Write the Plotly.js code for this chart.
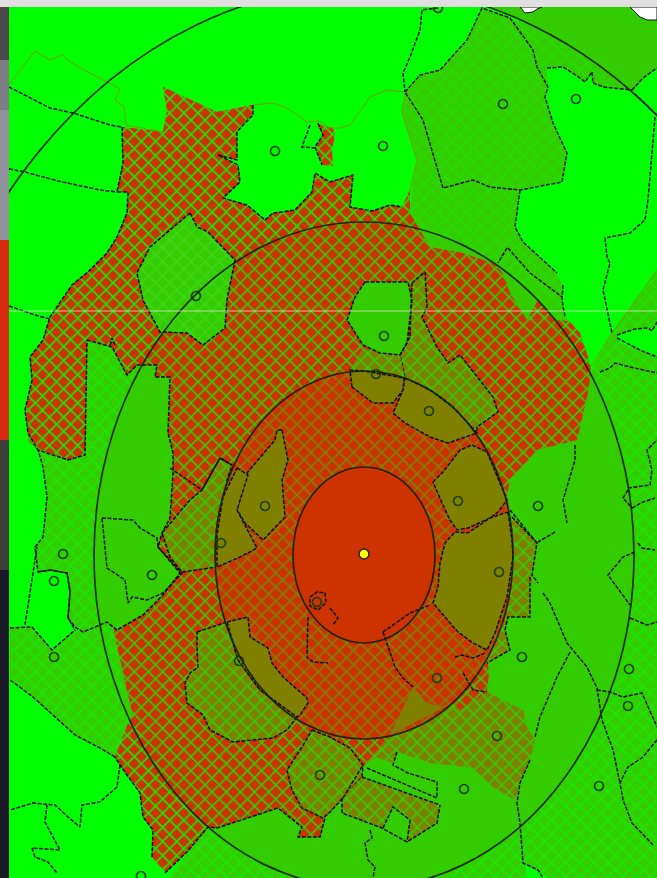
<!DOCTYPE html>
<html><head><meta charset="utf-8">
<script src="https://cdn.plot.ly/plotly-3.0.1.min.js"></script>
<style>html,body{margin:0;padding:0;background:#fff;overflow:hidden}#c{width:657px;height:878px;filter:blur(0.35px)}</style>
</head><body><div id="c"></div>
<script>
// ---------- colours ----------
const BRIGHT='#00ff00', SOLID='#33cc00', RED='#cc3300', OLIVE='#808000', DARK='#101010';
// ---------- ring boundaries (centre x,y, radii) ----------
const ringCenter=[364,555];
const ringRx=[71,149,270,461];
const ringRy=[88,184,333,569];
// ---------- ring interiors read as outlines ----------
const ring3Area=[[634,555],[630,613],[618,669],[598,721],[571,769],[538,810],[499,843],[456,868],[411,883],[364,888],[317,883],[272,868],[229,843],[190,810],[157,769],[130,721],[110,669],[98,613],[94,555],[98,497],[110,441],[130,389],[157,341],[190,300],[229,267],[272,242],[317,227],[364,222],[411,227],[456,242],[499,267],[538,300],[571,341],[598,389],[618,441],[630,497]];
const ring2Area=[[513,555],[511,587],[504,618],[493,647],[478,673],[460,696],[439,714],[415,728],[390,736],[364,739],[338,736],[313,728],[289,714],[268,696],[250,673],[235,647],[224,618],[217,587],[215,555],[217,523],[224,492],[235,463],[250,437],[268,414],[289,396],[313,382],[338,374],[364,371],[390,374],[415,382],[439,396],[460,414],[478,437],[493,463],[504,492],[511,523]];
const ring1Area=[[435,555],[434,570],[431,585],[425,599],[418,612],[410,622],[400,631],[388,638],[376,642],[364,643],[352,642],[340,638],[328,631],[318,622],[310,612],[303,599],[297,585],[294,570],[293,555],[294,540],[297,525],[303,511],[310,498],[318,488],[328,479],[340,472],[352,468],[364,467],[376,468],[388,472],[400,479],[410,488],[418,498],[425,511],[431,525],[434,540]];
// ---------- hatched green districts ----------
const leftStrip=[[87,340],[112,347],[127,375],[137,365],[157,365],[155,377],[170,377],[168,433],[173,453],[173,473],[170,518],[162,533],[158,547],[180,573],[163,595],[143,615],[117,630],[107,622],[83,632],[75,627],[68,618],[70,592],[67,573],[50,570],[38,572],[35,547],[43,537],[47,497],[43,467],[38,450],[68,460],[85,455]];
const bottomLeft=[[10,628],[32,627],[52,650],[75,630],[83,632],[107,622],[115,637],[127,713],[128,723],[115,757],[100,748],[75,735],[62,723],[50,712],[33,697],[17,685],[10,680]];
const topRight=[[482,8],[510,18],[533,50],[537,67],[548,87],[545,97],[553,123],[567,153],[562,180],[520,190],[515,227],[523,242],[557,273],[563,287],[563,315],[570,322],[550,340],[500,300],[410,240],[410,213],[412,187],[417,160],[402,113],[405,92],[420,75],[440,70],[467,40]];
const topRightEdge=[[510,18],[533,50],[537,67],[548,87],[547,68],[563,67],[580,78],[585,82],[592,72],[593,83],[603,87],[632,90],[570,40]];
const bottomRight=[[168,878],[208,827],[520,780],[591,370],[612,333],[657,270],[657,878]];
// ---------- plain darker corner ----------
const topCorner=[[490,7],[657,7],[657,68],[643,78],[633,92],[570,48],[510,15]];
// ---------- bright openings ----------
const brightRight=[[617,335],[635,329],[648,328],[652,331],[657,322],[657,357],[640,350],[620,343]];
const brightBottom=[[525,865],[540,872],[548,878],[527,878]];
// ---------- red hatched area ----------
const redMain=[[163,87],[217,112],[253,105],[253,115],[245,123],[237,132],[237,160],[218,155],[238,165],[240,182],[223,198],[247,205],[265,220],[273,213],[295,210],[312,192],[315,173],[330,182],[353,175],[350,207],[372,211],[390,205],[402,207],[410,190],[410,213],[420,230],[430,247],[463,253],[493,263],[503,273],[510,293],[527,320],[550,318],[570,322],[580,333],[588,357],[591,370],[588,393],[578,433],[577,440],[537,450],[510,480],[507,497],[510,510],[470,600],[487,657],[489,673],[487,692],[473,703],[460,710],[452,703],[400,730],[363,767],[343,798],[325,818],[320,837],[298,837],[302,827],[278,808],[217,828],[208,827],[187,852],[165,873],[152,857],[153,830],[143,817],[140,793],[122,768],[115,757],[128,723],[133,717],[115,637],[85,455],[68,460],[50,453],[38,450],[28,440],[28,433],[25,410],[32,380],[30,357],[43,340],[50,317],[60,303],[72,285],[88,272],[107,253],[117,237],[127,213],[128,192],[117,192],[123,163],[122,127],[163,132],[167,110]];
const redTop=[[163,87],[217,112],[253,105],[253,115],[245,123],[237,132],[237,160],[218,155],[238,165],[240,182],[223,198],[247,205],[265,220],[273,213],[295,210],[312,192],[315,173],[330,182],[353,175],[350,207],[372,211],[390,205],[402,207],[410,190],[410,213],[411,227],[364,222],[317,227],[272,242],[229,267],[190,300],[157,341],[130,389],[110,441],[98,470],[85,455],[68,460],[50,453],[38,450],[28,440],[28,433],[25,410],[32,380],[30,357],[43,340],[50,317],[60,303],[72,285],[88,272],[107,253],[117,237],[127,213],[128,192],[117,192],[123,163],[122,127],[163,132],[167,110]];
const redWedge=[[527,320],[550,318],[570,322],[580,333],[588,357],[591,370],[571,341],[538,300]];
const redLow=[[133,717],[157,769],[190,810],[208,827],[187,852],[165,873],[152,857],[153,830],[143,817],[140,793],[122,768],[115,757],[128,723]];
const redTiny=[[317,124],[333,128],[335,135],[332,150],[333,166],[322,165],[316,147],[323,135]];
// ---------- solid green districts ----------
const stripInner=[[137,365],[157,365],[155,377],[170,377],[168,433],[173,453],[173,473],[170,518],[162,533],[158,547],[180,573],[163,595],[143,615],[117,630],[107,622],[103,625],[98,613],[94,555],[98,497],[110,441],[130,389]];
const zoneWest=[[190,213],[197,227],[208,232],[235,260],[227,300],[225,328],[203,345],[187,333],[160,332],[143,300],[137,273],[150,247]];
const zoneNorth=[[365,282],[408,282],[412,300],[410,320],[407,343],[400,355],[380,353],[363,345],[347,320],[355,297]];
const stripeBand=[[367,762],[378,758],[393,763],[397,752],[430,763],[473,768],[493,787],[515,800],[500,830],[437,823],[440,805],[362,777]];
// ---------- olive hatched districts ----------
const oliveSW=[[197,632],[227,622],[238,660],[260,690],[297,717],[287,730],[273,738],[233,742],[210,730],[203,715],[187,703],[185,683],[190,673],[198,667],[197,647]];
const oliveW=[[220,458],[232,465],[227,480],[217,567],[182,572],[170,557],[162,533],[173,520],[190,500],[202,490]];
const oliveS=[[312,730],[330,737],[350,748],[363,765],[362,777],[343,798],[330,812],[323,818],[302,808],[292,790],[287,770],[302,747]];
const oliveSE=[[390,735],[452,703],[460,710],[473,703],[487,692],[489,693],[523,710],[527,727],[535,740],[530,760],[520,783],[515,800],[493,787],[473,768],[430,763],[397,752],[393,763],[378,758],[367,762]];
const oliveE=[[512,517],[537,543],[532,573],[530,617],[508,617],[505,630],[510,650],[487,663],[480,660],[500,620]];
const oliveBand=[[362,777],[440,805],[437,823],[407,842],[410,820],[393,807],[382,828],[342,813],[342,798]];
const oliveN=[[412,283],[425,272],[427,307],[422,317],[437,347],[448,363],[460,355],[493,397],[498,412],[477,427],[477,433],[453,407],[430,390],[405,378],[400,355],[407,343],[410,337]];
const oliveN2=[[363,348],[380,353],[400,355],[405,378],[364,376],[350,370]];
// ---------- solid olive districts (inside second ring) ----------
const solidA=[[282,430],[288,460],[282,480],[285,517],[263,540],[245,523],[237,510],[247,473],[275,440],[277,430]];
const solidB=[[237,468],[248,475],[237,510],[245,525],[257,548],[240,557],[217,567],[217,535],[223,497]];
const solidC=[[433,482],[443,472],[460,450],[472,445],[487,452],[497,477],[507,500],[498,512],[490,518],[468,528],[457,530],[450,520],[442,503]];
const solidD=[[508,512],[512,540],[513,557],[507,597],[495,633],[487,650],[473,643],[458,632],[445,617],[433,603],[438,587],[440,563],[445,543],[455,532],[468,533],[490,518]];
const solidE=[[390,735],[413,687],[427,703],[440,707],[452,703]];
const solidF=[[227,622],[248,617],[250,637],[268,648],[272,663],[283,677],[307,698],[308,703],[300,715],[297,717],[260,690],[238,660]];
const solidG=[[352,387],[350,370],[364,371],[404,378],[403,390],[393,403],[373,403]];
const solidH=[[405,378],[430,390],[453,407],[477,433],[448,443],[430,437],[405,423],[393,413],[403,390]];
// ---------- dashed boundary lines ----------
const dashed=[
 [[9,87],[50,108],[73,113],[110,125],[122,127]],
 [[9,169],[25,172],[58,181],[100,190],[117,192]],
 [[9,306],[35,315],[50,319]],
 [[122,127],[123,163],[117,192],[128,192],[127,213],[117,237],[107,253],[88,272],[72,285],[60,303],[50,317],[43,340],[30,357],[32,380],[25,410],[28,433],[38,450]],
 [[253,105],[253,115],[245,123],[237,132],[237,160],[218,155],[238,165],[240,182],[223,198],[247,205],[265,220],[273,213],[295,210],[312,192],[315,173],[330,182],[353,175],[350,207],[372,211],[390,205],[402,207]],
 [[310,125],[302,147],[317,148]],[[318,123],[323,135],[315,147],[322,165]],
 [[438,8],[422,10],[420,30],[410,57],[403,73],[405,92]],
 [[405,92],[420,75],[440,70],[467,40],[482,8],[510,18],[533,50],[537,67],[548,87],[545,97],[553,123],[567,153],[562,182],[520,190],[490,187],[473,180],[443,188],[423,120],[405,92]],
 [[520,190],[515,227],[523,242],[557,273]],[[508,248],[530,273],[562,297]],[[507,248],[498,263]],[[563,285],[562,300],[565,317]],
 [[657,115],[633,92]],[[655,117],[652,153],[648,200],[645,220],[630,233],[605,238],[607,257],[610,263],[603,290],[612,333]],
 [[547,68],[563,67],[580,78],[585,82],[592,72],[593,83],[603,87],[632,90]],[[632,90],[643,78],[657,68]],
 [[617,335],[635,329],[648,328],[652,331],[657,322]],[[617,338],[640,350],[657,357]],[[600,372],[610,368],[615,363],[630,367],[657,373]],
 [[628,488],[650,485],[652,470],[647,450],[657,440]],[[632,508],[643,502],[655,498]],[[628,490],[623,498],[632,508]],
 [[635,552],[623,557],[608,575],[630,605]],[[638,543],[642,548],[655,550]],[[630,618],[647,625],[657,622]],
 [[597,690],[610,692],[623,697],[642,693],[657,727]],[[657,740],[643,757],[628,767],[620,783],[623,800],[632,823],[653,845]],
 [[575,445],[575,460],[563,500],[567,523]],[[555,532],[538,542]],
 [[543,593],[550,603],[567,643],[587,667],[597,688],[602,720],[613,750],[620,783]],
 [[570,652],[557,677],[540,717],[535,737]],
 [[530,760],[520,783],[517,803],[520,823],[523,863],[538,870],[543,878]],
 [[512,517],[537,543],[532,575],[538,583]],[[530,577],[530,617],[508,617],[505,630],[510,650],[487,663]],
 [[510,510],[537,543]],
 [[370,830],[372,838],[365,843],[368,860],[375,867],[373,878]],
 [[362,777],[440,805]],[[367,768],[437,798]],[[397,752],[393,765],[408,773],[437,782],[437,798]],
 [[383,828],[393,807],[410,820],[407,842]],[[342,798],[342,813],[382,828],[407,842],[437,823],[440,805]],
 [[120,765],[117,787],[100,802],[82,805],[80,827],[68,817],[55,805],[33,803],[10,810]],
 [[47,805],[45,822],[60,850],[32,848],[35,857],[48,862],[57,873]],
 [[102,518],[133,520],[140,528],[157,538],[158,547],[182,573],[163,593],[147,600],[132,597],[128,603],[125,580],[107,568],[102,518]],
 [[310,597],[317,592],[325,593],[326,603],[318,610],[310,606],[310,597]],
 [[308,617],[307,657],[313,662],[328,663]],[[383,632],[387,643],[395,667],[403,678],[413,687]],
 [[383,632],[410,613],[430,605]],[[330,608],[338,618],[333,625]],
 [[455,657],[462,655],[473,658],[485,653]],[[463,673],[473,690],[487,692]],
 [[115,345],[112,338],[110,346]],
 [[10,628],[32,627],[52,650],[75,630]],[[25,625],[37,547]],[[38,572],[50,570],[67,573],[70,592],[68,618],[75,630]],
 [[170,468],[202,490],[220,458],[232,465]],
 [[115,757],[100,748],[75,735],[62,723],[50,712],[33,697],[17,685],[10,680]],
 [[152,857],[153,830],[143,817],[140,793],[122,768],[115,757]],
 [[165,873],[187,852],[208,827],[217,828],[278,808],[302,827],[298,837],[320,837],[325,818]],
 [[343,798],[363,765]]
];
// ---------- thin brown outline ----------
const brownLines=[
 [[9,85],[35,51],[50,60],[62,55],[72,63],[88,72],[120,89],[115,100],[124,107],[126,125],[163,132]],
 [[253,105],[273,103],[287,108],[307,122],[318,121],[330,128],[340,128],[350,125],[370,97],[387,90],[405,92],[402,113],[417,160],[410,190]],
 [[590,368],[612,333],[657,270]]
];
// ---------- site markers ----------
const siteX=[275,383,503,576,196,384,376,429,265,221,63,54,152,54,458,538,499,317,239,522,437,629,628,497,464,320,599,141,438];
const siteY=[151,146,104,99,296,336,374,411,506,543,554,581,575,657,501,506,572,602,661,657,678,669,706,736,789,775,786,876,8];
const centreX=[364], centreY=[554];
// ---------- frame ----------
const stripStops=[7,60,110,240,440,570,878];
const stripColours=['#4a4a4a','#7c8085','#90949a','#d82a10','#3e3e38','#1a1a24'];
const whiteBits=[[[520,7],[525,13],[533,12],[537,9],[542,7]],[[630,7],[640,17],[647,20],[657,20],[657,7]]];

const poly=(pts,bg,fg,opts={})=>{
  const t={type:'scatter',mode:'lines',hoverinfo:'skip',showlegend:false,
    x:pts.map(p=>p[0]).concat(pts[0][0]),y:pts.map(p=>p[1]).concat(pts[0][1]),
    fill:'toself',fillcolor:bg,line:{width:opts.lw||0,color:opts.lc||DARK,dash:opts.dash||'solid'}};
  if(fg) t.fillpattern={shape:'x',size:opts.size||10,solidity:opts.sol||0.3,bgcolor:bg,fgcolor:fg,fgopacity:opts.op||1,fillmode:'replace'};
  return t;
};
const dashOpt={lw:1.5,dash:'4px,1.5px'};
const traces=[
 poly(leftStrip,SOLID,'#10f000',{op:.75}),
 poly(bottomLeft,SOLID,'#10f000',{op:.75}),
 poly(bottomRight,SOLID,'#10f000',{op:.75}),
 poly(topRight,SOLID,'#10f000',{op:.45}),
 poly(topRightEdge,SOLID,'#10f000',{op:.45}),
 poly(topCorner,SOLID),
 poly(brightRight,BRIGHT),
 poly(brightBottom,BRIGHT),
 poly(ring3Area,SOLID),
 poly(redMain,RED,SOLID),
 poly(redTop,RED,'#18e800'),
 poly(redWedge,RED,'#18e800'),
 poly(redLow,RED,'#18e800'),
 poly(redTiny,RED,'#18e800'),
 poly(leftStrip,SOLID,'#10f000',{op:.75}),
 poly(stripInner,SOLID),
 poly(bottomLeft,SOLID,'#10f000',{op:.75}),
 poly(zoneWest,SOLID,'#3fd81a',{op:.8}),
 poly(zoneNorth,SOLID),
 poly(stripeBand,SOLID),
 poly(oliveSW,OLIVE,SOLID,dashOpt),
 poly(oliveW,OLIVE,SOLID,dashOpt),
 poly(oliveS,OLIVE,SOLID,dashOpt),
 poly(oliveSE,OLIVE,SOLID),
 poly(oliveE,OLIVE,SOLID),
 poly(oliveBand,OLIVE,SOLID),
 poly(oliveN,OLIVE,SOLID,dashOpt),
 poly(oliveN2,OLIVE,SOLID),
 poly(ring2Area,RED,OLIVE),
 poly(solidA,OLIVE,null,dashOpt),
 poly(solidB,OLIVE,null,dashOpt),
 poly(solidC,OLIVE,null,dashOpt),
 poly(solidD,OLIVE,null,dashOpt),
 poly(solidE,OLIVE,null),
 poly(solidF,OLIVE,null,dashOpt),
 poly(solidG,OLIVE,null,dashOpt),
 poly(solidH,OLIVE,null,dashOpt),
 poly(ring1Area,RED,null)
];
[leftStrip,zoneWest,zoneNorth].forEach(z=>traces.push({type:'scatter',mode:'lines',hoverinfo:'skip',showlegend:false,
  x:z.map(p=>p[0]).concat(z[0][0]),y:z.map(p=>p[1]).concat(z[0][1]),line:{color:DARK,width:1.5,dash:'4px,1.5px'}}));
brownLines.forEach(l=>traces.push({type:'scatter',mode:'lines',hoverinfo:'skip',showlegend:false,
  x:l.map(p=>p[0]),y:l.map(p=>p[1]),line:{color:'#7a9a00',width:1}}));
dashed.forEach(l=>traces.push({type:'scatter',mode:'lines',hoverinfo:'skip',showlegend:false,
  x:l.map(p=>p[0]),y:l.map(p=>p[1]),line:{color:DARK,width:1.5,dash:'4px,1.5px'}}));
whiteBits.forEach(w=>traces.push(poly(w,'#ffffff',null,{lw:1})));
traces.push({type:'scatter',mode:'markers',hoverinfo:'skip',showlegend:false,x:siteX,y:siteY,
  marker:{symbol:'circle-open',size:9,color:'#1c4400',line:{width:1.7,color:'#1c4400'}}});
traces.push({type:'scatter',mode:'markers',hoverinfo:'skip',showlegend:false,x:centreX,y:centreY,
  marker:{symbol:'circle',size:10,color:'#ffff00',line:{width:1.5,color:'#222'}}});

const shapes=[];
ringRx.forEach((rx,i)=>shapes.push({type:'circle',xref:'x',yref:'y',layer:'above',
  x0:ringCenter[0]-rx,x1:ringCenter[0]+rx,y0:ringCenter[1]-ringRy[i],y1:ringCenter[1]+ringRy[i],
  line:{color:'rgba(20,30,0,.9)',width:1.7},fillcolor:'rgba(0,0,0,0)'}));
shapes.push({type:'line',xref:'x',yref:'y',layer:'above',x0:9,x1:657,y0:311,y1:311,line:{color:'rgba(225,235,205,.75)',width:1}});
shapes.push({type:'rect',xref:'x',yref:'y',layer:'above',x0:0,x1:657,y0:0,y1:7,line:{width:0},fillcolor:'#e0e0e0'});
stripColours.forEach((c,i)=>shapes.push({type:'rect',xref:'x',yref:'y',layer:'above',x0:0,x1:9,y0:stripStops[i],y1:stripStops[i+1],line:{width:0},fillcolor:c}));

Plotly.newPlot('c',traces,{width:657,height:878,margin:{l:0,r:0,t:0,b:0},showlegend:false,
  plot_bgcolor:BRIGHT,paper_bgcolor:BRIGHT,
  xaxis:{range:[0,657],visible:false,fixedrange:true},
  yaxis:{range:[878,0],visible:false,fixedrange:true},
  shapes:shapes},{staticPlot:true,displayModeBar:false});
</script></body></html>
